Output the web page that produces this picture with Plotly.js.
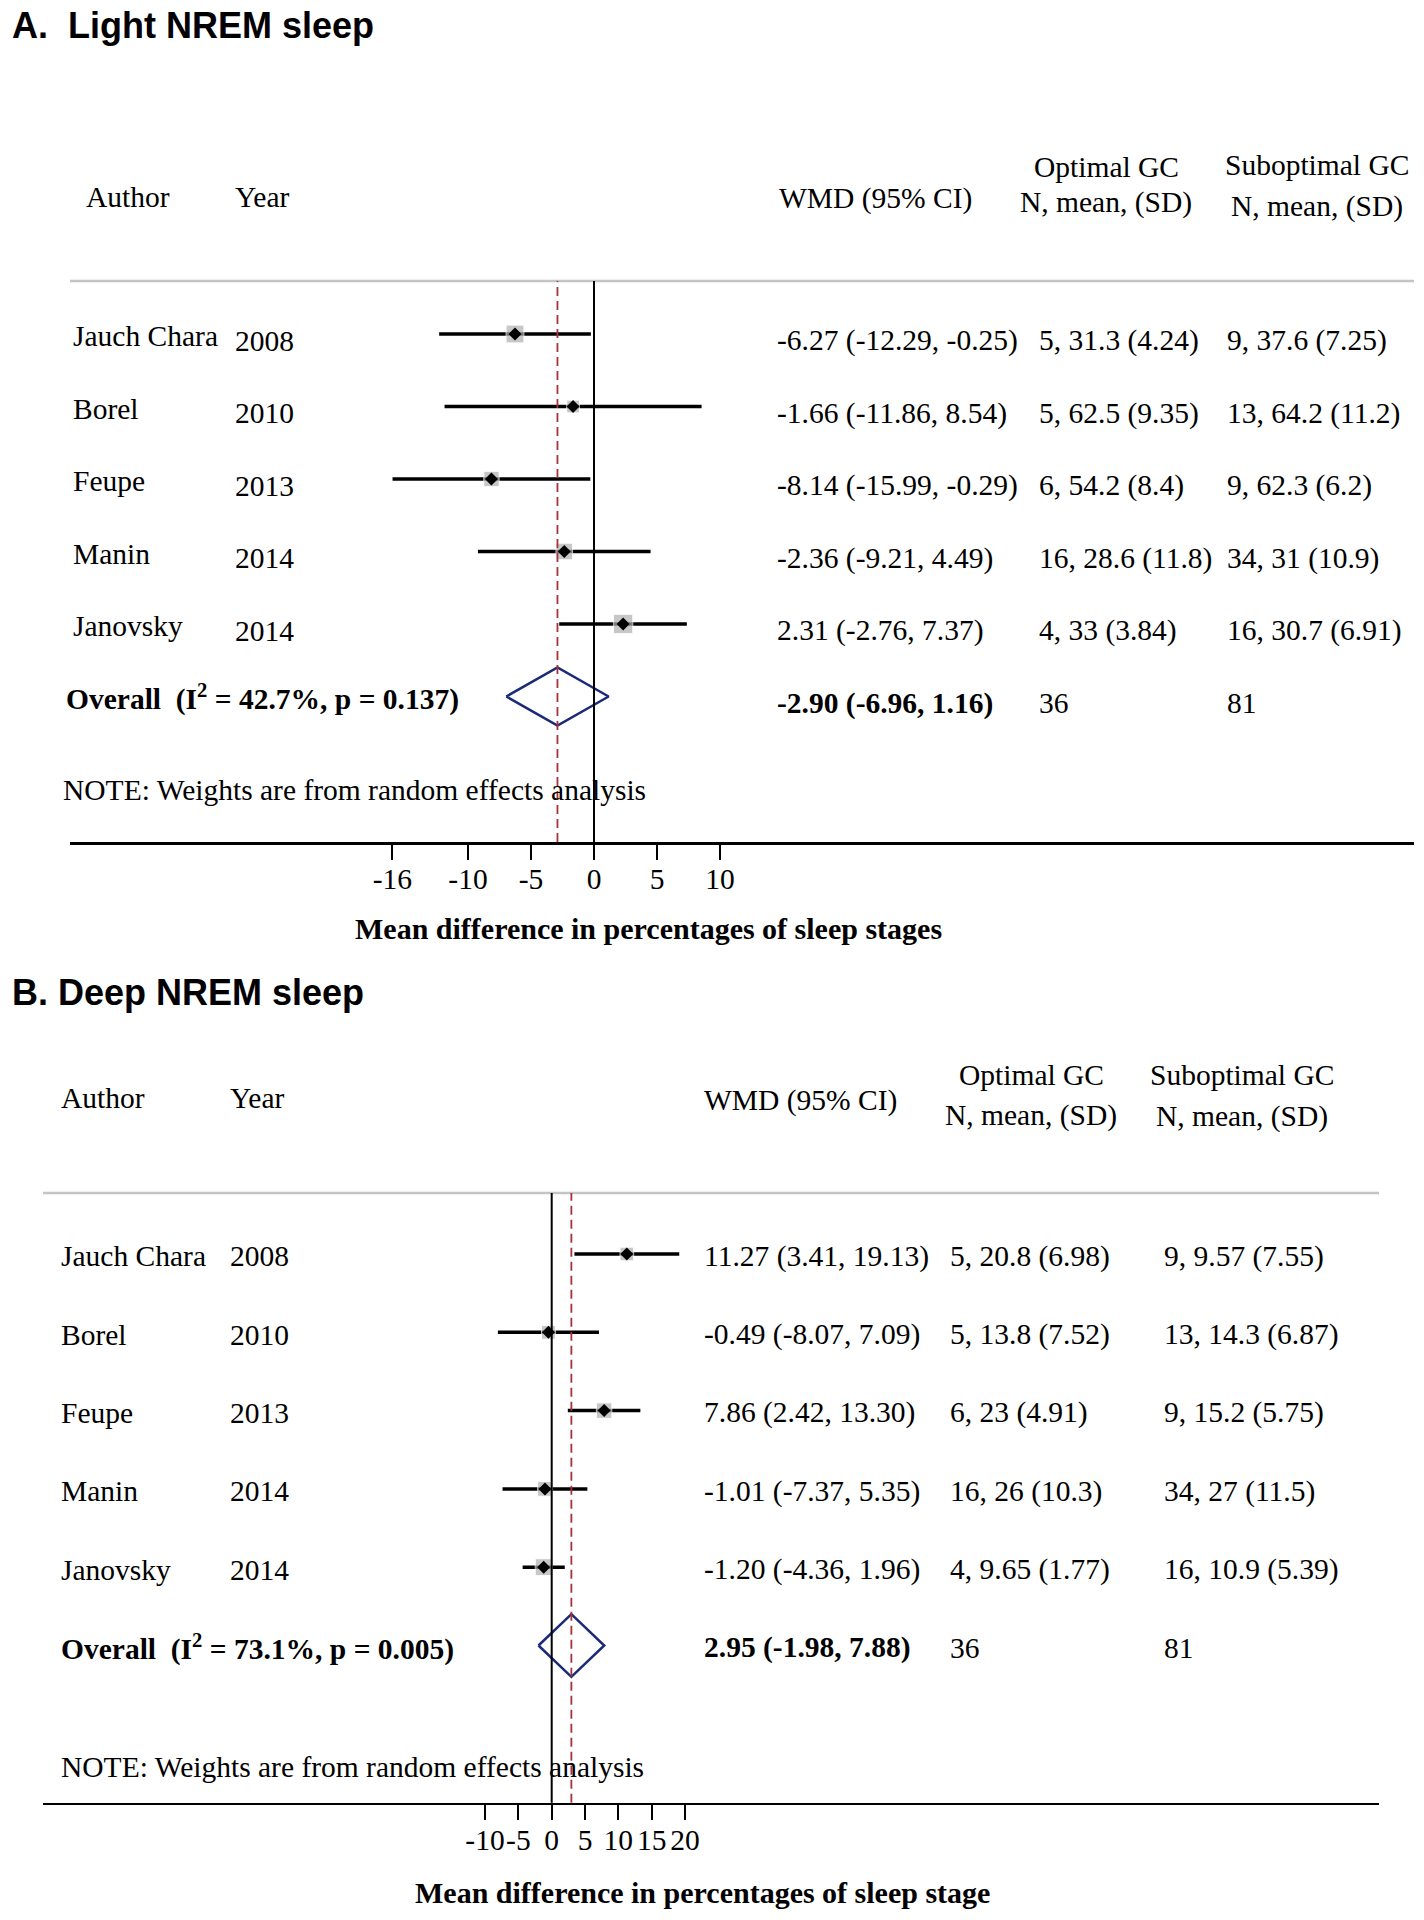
<!DOCTYPE html>
<html>
<head>
<meta charset="utf-8">
<script src="https://cdn.plot.ly/plotly-3.0.1.min.js"></script>
<style>
  html, body { margin: 0; padding: 0; background: #fff; }
  #chart { width: 1424px; height: 1920px; }
</style>
</head>
<body>
<div id="chart"></div>
<script>
// ---- data ----
const authors = ["Jauch Chara", "Borel", "Feupe", "Manin", "Janovsky"];
const years = ["2008", "2010", "2013", "2014", "2014"];

// A. Light NREM sleep
const wmdA = [-6.27, -1.66, -8.14, -2.36, 2.31];
const lowA = [-12.29, -11.86, -15.99, -9.21, -2.76];
const highA = [-0.25, 8.54, -0.29, 4.49, 7.37];
const weightA = [23.3, 11.9, 17.2, 20.2, 27.4]; // % weight, random effects (estimated)
const optimalA = ["5, 31.3 (4.24)", "5, 62.5 (9.35)", "6, 54.2 (8.4)", "16, 28.6 (11.8)", "4, 33 (3.84)"];
const suboptimalA = ["9, 37.6 (7.25)", "13, 64.2 (11.2)", "9, 62.3 (6.2)", "34, 31 (10.9)", "16, 30.7 (6.91)"];
const overallA = [-2.90, -6.96, 1.16];
const heterogeneityA = ["42.7%", "0.137"];
const totalsA = [36, 81];
const ticksA = [-16, -10, -5, 0, 5, 10];

// B. Deep NREM sleep
const wmdB = [11.27, -0.49, 7.86, -1.01, -1.20];
const lowB = [3.41, -8.07, 2.42, -7.37, -4.36];
const highB = [19.13, 7.09, 13.30, 5.35, 1.96];
const weightB = [16.6, 17.1, 21.3, 19.4, 25.6];
const optimalB = ["5, 20.8 (6.98)", "5, 13.8 (7.52)", "6, 23 (4.91)", "16, 26 (10.3)", "4, 9.65 (1.77)"];
const suboptimalB = ["9, 9.57 (7.55)", "13, 14.3 (6.87)", "9, 15.2 (5.75)", "34, 27 (11.5)", "16, 10.9 (5.39)"];
const overallB = [2.95, -1.98, 7.88];
const heterogeneityB = ["73.1%", "0.005"];
const totalsB = [36, 81];
const ticksB = [-10, -5, 0, 5, 10, 15, 20];

// ---- page geometry (pixels) ----
const W = 1424, H = 1920;
const px = (x) => x / W;
const py = (y) => 1 - y / H;
const SERIF = "Liberation Serif, Times New Roman, serif";
const SANS = "Liberation Sans, Arial, sans-serif";
const NB = "\u00a0";

const fmt = (v) => v.toFixed(2);
const ciLabel = (e, l, h) => `${fmt(e)} (${fmt(l)}, ${fmt(h)})`;

function label(str, x, y, opts = {}) {
  return Object.assign({
    text: str, x, y, xref: "paper", yref: "paper",
    xanchor: "left", yanchor: "middle", showarrow: false,
    font: { family: SERIF, size: 29.5, color: "#000" },
  }, opts);
}

const panels = [
  {
    title: "A." + NB + NB + "Light NREM sleep", titlePos: [10, 25],
    xaxis: "x", yaxis: "y",
    axisTitle: "Mean difference in percentages of sleep stages", axisTitlePos: [648, 928],
    wmd: wmdA, low: lowA, high: highA, weight: weightA, boxScale: 3.7,
    optimal: optimalA, suboptimal: suboptimalA, overall: overallA,
    het: heterogeneityA, totals: totalsA, ticks: ticksA,
    zeroPx: 594, unitPx: 12.6, left: 70, right: 1414, top: 281, bottom: 842,
    row0: 334, rowStep: 72.5, nameShift: 0.03, valueShift: 0.09, overallShift: 0.02,
    cols: { name: 71, year: 233, wmd: 775, opt: 1037, sub: 1225, overall: 64 },
    head: { author: [84, 197], year: [233, 197], wmd: [777, 198], opt: [1106, 167, 202], sub: [1317, 165, 207] },
    note: [61, 790],
  },
  {
    title: "B. Deep NREM sleep", titlePos: [10, 992],
    xaxis: "x2", yaxis: "y2",
    axisTitle: "Mean difference in percentages of sleep stage", axisTitlePos: [702, 1892],
    wmd: wmdB, low: lowB, high: highB, weight: weightB, boxScale: 3.35,
    optimal: optimalB, suboptimal: suboptimalB, overall: overallB,
    het: heterogeneityB, totals: totalsB, ticks: ticksB,
    zeroPx: 551.7, unitPx: 6.667, left: 43, right: 1379, top: 1193, bottom: 1802.7,
    row0: 1254, rowStep: 78.3, nameShift: 0.03, valueShift: 0.03, overallShift: 0.03,
    cols: { name: 59, year: 228, wmd: 702, opt: 948, sub: 1162, overall: 59 },
    head: { author: [59, 1098], year: [228, 1098], wmd: [702, 1100], opt: [1031, 1075, 1115], sub: [1242, 1075, 1116] },
    note: [59, 1767],
  },
];

const traces = [];
const annotations = [];
const shapes = [];
const layout = {
  width: W, height: H,
  margin: { l: 0, r: 0, t: 0, b: 0 },
  paper_bgcolor: "#fff", plot_bgcolor: "rgba(0,0,0,0)",
  showlegend: false,
  font: { family: SERIF, color: "#000" },
};

panels.forEach((p) => {
  const rows = p.wmd.map((_, i) => i);
  const pooledRow = rows.length;
  const [est, lo, hi] = p.overall;

  // CI lines with weight boxes
  traces.push({
    type: "scatter", mode: "markers", xaxis: p.xaxis, yaxis: p.yaxis,
    x: p.wmd, y: rows, hoverinfo: "skip",
    marker: { symbol: "square", color: "#b0b0b0", size: p.weight.map((w) => p.boxScale * Math.sqrt(w)) },
    error_x: {
      type: "data", symmetric: false,
      array: p.high.map((h, i) => h - p.wmd[i]),
      arrayminus: p.low.map((l, i) => p.wmd[i] - l),
      width: 0, thickness: 3.5, color: "#000",
    },
  });
  // point estimates
  traces.push({
    type: "scatter", mode: "markers", xaxis: p.xaxis, yaxis: p.yaxis,
    x: p.wmd, y: rows, hoverinfo: "skip",
    marker: { symbol: "diamond", color: "#000", size: 10 },
  });
  // pooled estimate diamond
  traces.push({
    type: "scatter", mode: "lines", xaxis: p.xaxis, yaxis: p.yaxis,
    x: [lo, est, hi, est, lo],
    y: [pooledRow, pooledRow - 0.4, pooledRow, pooledRow + 0.4, pooledRow],
    fill: "toself", fillcolor: "rgba(255,255,255,0)",
    line: { color: "#1b2a78", width: 2.5 }, hoverinfo: "skip",
  });

  const axKey = p.xaxis === "x" ? "xaxis" : "xaxis2";
  const ayKey = p.yaxis === "y" ? "yaxis" : "yaxis2";
  layout[axKey] = {
    domain: [px(p.left), px(p.right)],
    range: [(p.left - p.zeroPx) / p.unitPx, (p.right - p.zeroPx) / p.unitPx],
    anchor: p.yaxis, automargin: false, fixedrange: true,
    showgrid: false, zeroline: false,
    showline: true, linecolor: "#000", linewidth: 2.5,
    ticks: "outside", ticklen: 15, tickwidth: 2, tickcolor: "#000",
    tickvals: p.ticks, ticktext: p.ticks.map(String), tickangle: 0,
    ticklabelstandoff: -6,
    tickfont: { family: SERIF, size: 29.5, color: "#000" },
  };
  layout[ayKey] = {
    domain: [py(p.bottom), py(p.top)],
    range: [(p.bottom - p.row0) / p.rowStep, (p.top - p.row0) / p.rowStep],
    anchor: p.xaxis, automargin: false, fixedrange: true,
    visible: false,
  };

  // rule under the header, null line, pooled line
  shapes.push({
    type: "line", xref: p.xaxis + " domain", yref: p.yaxis + " domain",
    x0: 0, x1: 1, y0: 1, y1: 1, line: { color: "#c4c4c4", width: 2.5 },
  });
  shapes.push({
    type: "line", xref: p.xaxis, yref: p.yaxis + " domain",
    x0: 0, x1: 0, y0: 0, y1: 1, line: { color: "#000", width: 2 },
  });
  shapes.push({
    type: "line", xref: p.xaxis, yref: p.yaxis + " domain",
    x0: est, x1: est, y0: 0, y1: 1, line: { color: "#a8323a", width: 1.8, dash: "9px,5px" },
  });

  // panel title, axis title and header
  annotations.push(label("<b>" + p.title + "</b>", px(p.titlePos[0]), py(p.titlePos[1]),
    { font: { family: SANS, size: 36, color: "#000" } }));
  annotations.push(label("<b>" + p.axisTitle + "</b>", px(p.axisTitlePos[0]), py(p.axisTitlePos[1]),
    { xanchor: "center", font: { family: SERIF, size: 30, color: "#000" } }));
  const h = p.head;
  annotations.push(label("Author", px(h.author[0]), py(h.author[1])));
  annotations.push(label("Year", px(h.year[0]), py(h.year[1])));
  annotations.push(label("WMD (95% CI)", px(h.wmd[0]), py(h.wmd[1])));
  annotations.push(label("Optimal GC", px(h.opt[0]), py(h.opt[1]), { xanchor: "center" }));
  annotations.push(label("N, mean, (SD)", px(h.opt[0]), py(h.opt[2]), { xanchor: "center" }));
  annotations.push(label("Suboptimal GC", px(h.sub[0]), py(h.sub[1]), { xanchor: "center" }));
  annotations.push(label("N, mean, (SD)", px(h.sub[0]), py(h.sub[2]), { xanchor: "center" }));

  // study rows
  rows.forEach((i) => {
    const yName = i + p.nameShift, yVal = i + p.valueShift;
    annotations.push(label(authors[i], px(p.cols.name), yName, { yref: p.yaxis }));
    annotations.push(label(years[i], px(p.cols.year), yVal, { yref: p.yaxis }));
    annotations.push(label(ciLabel(p.wmd[i], p.low[i], p.high[i]), px(p.cols.wmd), yVal, { yref: p.yaxis }));
    annotations.push(label(p.optimal[i], px(p.cols.opt), yVal, { yref: p.yaxis }));
    annotations.push(label(p.suboptimal[i], px(p.cols.sub), yVal, { yref: p.yaxis }));
  });

  // pooled row
  const overallText = "<b>Overall" + NB + NB + "(I<sup>2</sup> = " + p.het[0] + ", p = " + p.het[1] + ")</b>";
  annotations.push(label(overallText, px(p.cols.overall), pooledRow + p.overallShift, { yref: p.yaxis }));
  annotations.push(label("<b>" + ciLabel(est, lo, hi) + "</b>", px(p.cols.wmd), pooledRow + p.valueShift, { yref: p.yaxis }));
  annotations.push(label(String(p.totals[0]), px(p.cols.opt), pooledRow + p.valueShift, { yref: p.yaxis }));
  annotations.push(label(String(p.totals[1]), px(p.cols.sub), pooledRow + p.valueShift, { yref: p.yaxis }));

  annotations.push(label("NOTE: Weights are from random effects analysis", px(p.note[0]), py(p.note[1])));
});

layout.annotations = annotations;
layout.shapes = shapes;

Plotly.newPlot("chart", traces, layout, { staticPlot: true, displayModeBar: false });
</script>
</body>
</html>
